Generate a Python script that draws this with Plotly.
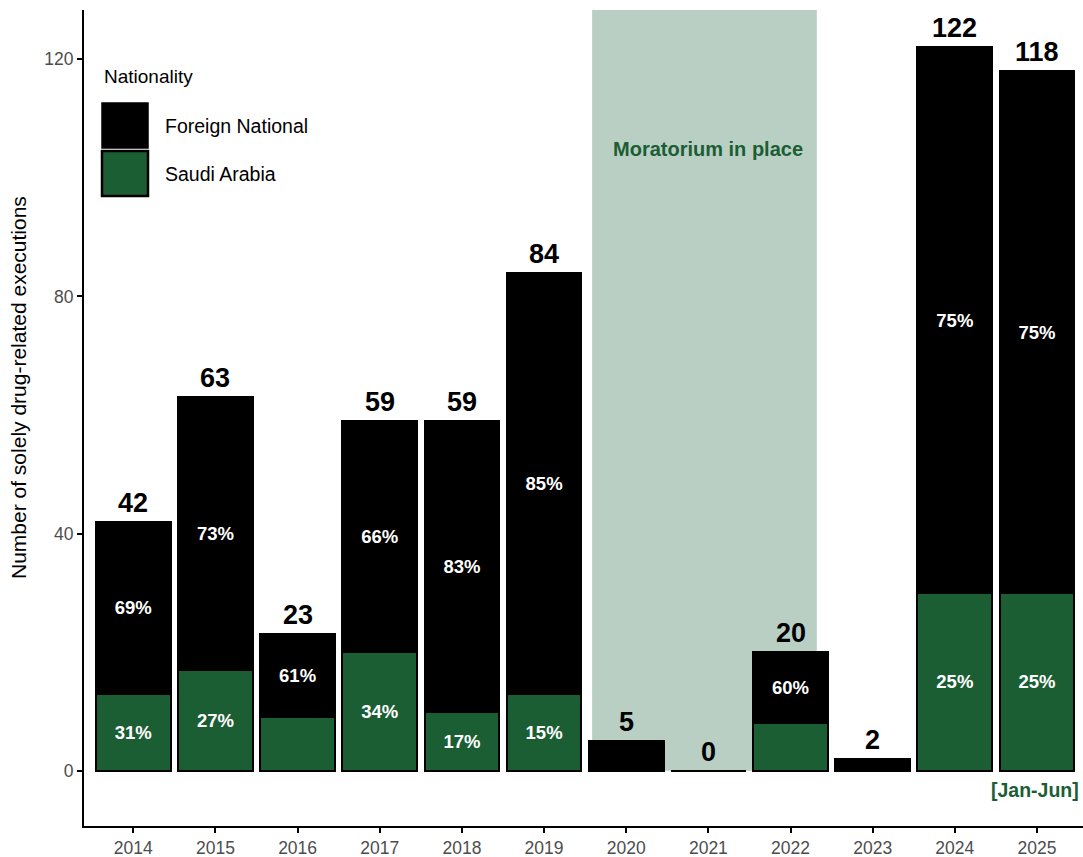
import plotly.graph_objects as go

years = [2014, 2015, 2016, 2017, 2018, 2019, 2020, 2021, 2022, 2023, 2024, 2025]
saudi = [13, 17, 9, 20, 10, 13, 0, 0, 8, 0, 30, 30]
foreign = [29, 46, 14, 39, 49, 71, 5, 0, 12, 2, 92, 88]
totals = [42, 63, 23, 59, 59, 84, 5, 0, 20, 2, 122, 118]
saudi_labels = ["31%", "27%", "", "34%", "17%", "15%", "", "", "", "", "25%", "25%"]
foreign_labels = ["69%", "73%", "61%", "66%", "83%", "85%", "", "", "60%", "", "75%", "75%"]
yticks = [0, 40, 80, 120]

GREEN = "#1b5e34"
SHADE = "#bacfc4"
FONT = "Liberation Sans, Arial, Helvetica, sans-serif"

fig = go.Figure()

fig.add_trace(go.Bar(
    x=years, y=saudi, name="Saudi Arabia", width=0.91,
    marker=dict(color=GREEN, line=dict(color="black", width=2)),
    text=saudi_labels, textposition="inside", insidetextanchor="middle",
    constraintext="none",
    textfont=dict(color="white", size=18.5, family=FONT, weight="bold"),
    showlegend=False, hoverinfo="skip",
))
fig.add_trace(go.Bar(
    x=years, y=foreign, name="Foreign National", width=0.91,
    marker=dict(color="black", line=dict(color="black", width=2)),
    text=foreign_labels, textposition="inside", insidetextanchor="middle",
    constraintext="none",
    textfont=dict(color="white", size=18.5, family=FONT, weight="bold"),
    showlegend=False, hoverinfo="skip",
))

for yr, tot in zip(years, totals):
    fig.add_annotation(x=yr, y=tot, xref="x", yref="y", text=f"<b>{tot}</b>",
                       showarrow=False, yanchor="bottom", yshift=2,
                       font=dict(color="black", size=27, family=FONT))

ymin, ymax = -9.3, 128.3
fig.add_shape(type="rect", xref="x", yref="y", x0=2019.585, x1=2022.32, y0=0, y1=ymax,
              fillcolor=SHADE, line=dict(width=0), layer="below")

fig.add_annotation(x=2021.0, y=104.8, xref="x", yref="y", text="<b>Moratorium in place</b>",
                   showarrow=False, font=dict(color=GREEN, size=20, family=FONT))
fig.add_annotation(x=2025.53, y=-3.3, xref="x", yref="y", text="<b>[Jan-Jun]</b>",
                   showarrow=False, xanchor="right",
                   font=dict(color=GREEN, size=19.5, family=FONT))

# manual legend and axis title (paper coords)
W, H = 999.0, 816.0
def px(xp):
    return (xp - 84) / W
def py(yp):
    return 1 - (yp - 10) / H

fig.add_annotation(x=px(18), y=py(388), xref="paper", yref="paper",
                   text="Number of solely drug-related executions", textangle=-90,
                   showarrow=False, xanchor="center", yanchor="middle",
                   font=dict(color="black", size=21, family=FONT))

fig.add_annotation(x=px(102), y=py(76), xref="paper", yref="paper", text="Nationality",
                   showarrow=False, xanchor="left", yanchor="middle",
                   font=dict(color="black", size=19, family=FONT))
fig.add_shape(type="rect", xref="paper", yref="paper", x0=px(102), x1=px(148), y0=py(148), y1=py(103),
              fillcolor="black", line=dict(color="black", width=1.5))
fig.add_shape(type="rect", xref="paper", yref="paper", x0=px(102), x1=px(148), y0=py(196), y1=py(151),
              fillcolor=GREEN, line=dict(color="black", width=2.5))
fig.add_annotation(x=px(163), y=py(126), xref="paper", yref="paper", text="Foreign National",
                   showarrow=False, xanchor="left", yanchor="middle",
                   font=dict(color="black", size=19.5, family=FONT))
fig.add_annotation(x=px(163), y=py(174), xref="paper", yref="paper", text="Saudi Arabia",
                   showarrow=False, xanchor="left", yanchor="middle",
                   font=dict(color="black", size=19.5, family=FONT))

fig.update_layout(
    barmode="stack", bargap=0.09,
    width=1083, height=857,
    margin=dict(l=84, r=0, t=10, b=31),
    plot_bgcolor="white", paper_bgcolor="white",
    font=dict(family=FONT),
    xaxis=dict(range=[2013.4, 2025.56], tickvals=years, ticktext=[str(y) for y in years],
               showgrid=False, zeroline=False, showline=True, linecolor="black", linewidth=2,
               ticks="outside", ticklen=5, tickcolor="black", tickwidth=1.5,
               tickfont=dict(color="#4d4d4d", size=17.5, family=FONT)),
    yaxis=dict(range=[ymin, ymax], tickvals=yticks, ticktext=[str(v) for v in yticks],
               showgrid=False, zeroline=False, showline=True, linecolor="black", linewidth=2,
               ticks="outside", ticklen=5, tickcolor="black", tickwidth=1.5,
               tickfont=dict(color="#4d4d4d", size=17.5, family=FONT)),
)

fig.write_html("out.html", config={"displayModeBar": False},
               post_script="document.body.style.margin='0';document.body.style.overflow='hidden';")
